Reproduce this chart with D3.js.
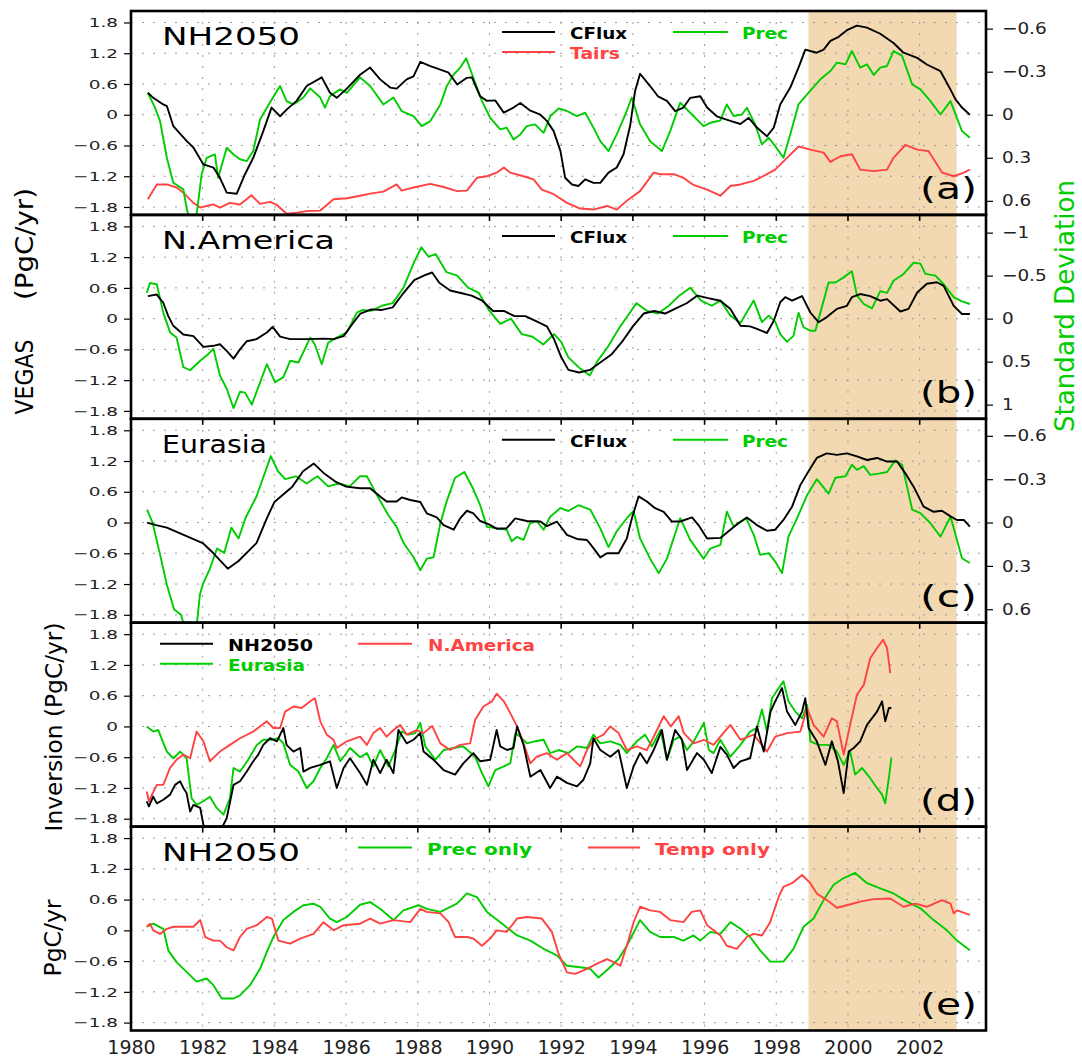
<!DOCTYPE html>
<html>
<head>
<meta charset="utf-8">
<script src="https://cdn.jsdelivr.net/npm/d3@7"></script>
<style>
  body { margin: 0; background: #fff; }
  svg { display: block; }
  text { font-family: "DejaVu Sans", sans-serif; }
</style>
</head>
<body>
<div id="chart"></div>
<script>

// ---- data: [year, value] ----
// (a) NH2050, left axis PgC/yr (CFlux, Tairs), right axis std dev (Prec)
var nhCFlux = [[1980.47,0.43],[1980.62,0.33],[1980.9,0.2],[1981.0,0.17],[1981.18,-0.22],[1981.55,-0.51],[1981.74,-0.64],[1982.02,-0.97],[1982.3,-1.03],[1982.48,-1.23],[1982.67,-1.52],[1982.95,-1.54],[1983.18,-1.16],[1983.41,-0.84],[1983.69,-0.32],[1983.92,0.14],[1984.16,-0.03],[1984.34,0.1],[1984.62,0.27],[1984.9,0.56],[1985.32,0.73],[1985.55,0.43],[1985.74,0.33],[1986.02,0.51],[1986.39,0.78],[1986.67,0.92],[1986.95,0.69],[1987.23,0.53],[1987.41,0.51],[1987.69,0.69],[1987.88,0.75],[1988.07,1.03],[1988.35,0.95],[1988.63,0.88],[1988.86,0.82],[1989.1,0.59],[1989.37,0.72],[1989.51,0.73],[1989.74,0.36],[1989.93,0.27],[1990.16,0.28],[1990.4,0.04],[1990.67,0.14],[1990.86,0.23],[1991.14,0.08],[1991.42,0.0],[1991.6,-0.12],[1991.79,-0.32],[1991.98,-0.71],[1992.11,-1.23],[1992.3,-1.36],[1992.48,-1.39],[1992.67,-1.26],[1992.9,-1.33],[1993.09,-1.33],[1993.32,-1.13],[1993.55,-1.03],[1993.74,-0.77],[1993.93,-0.19],[1994.06,0.46],[1994.2,0.8],[1994.48,0.56],[1994.7,0.36],[1994.95,0.27],[1995.18,0.07],[1995.41,0.14],[1995.6,0.33],[1995.88,0.36],[1996.07,0.14],[1996.34,-0.03],[1996.72,-0.12],[1997.0,-0.18],[1997.23,-0.06],[1997.46,-0.25],[1997.74,-0.42],[1997.93,-0.25],[1998.11,0.2],[1998.39,0.53],[1998.62,0.92],[1998.81,1.27],[1999.13,1.21],[1999.32,1.27],[1999.51,1.44],[1999.74,1.52],[1999.97,1.65],[2000.25,1.74],[2000.53,1.7],[2000.9,1.58],[2001.27,1.4],[2001.55,1.21],[2001.93,1.11],[2002.2,0.98],[2002.58,0.85],[2002.86,0.49],[2003.0,0.3],[2003.18,0.14],[2003.4,0.0]];
var nhPrec = [[1980.47,-0.153],[1980.67,-0.049],[1980.81,0.044],[1981.0,0.3],[1981.18,0.474],[1981.46,0.52],[1981.55,0.65],[1981.65,0.75],[1981.75,0.74],[1981.83,0.695],[1981.97,0.416],[1982.11,0.3],[1982.34,0.277],[1982.43,0.44],[1982.67,0.23],[1982.86,0.277],[1983.04,0.31],[1983.23,0.323],[1983.41,0.253],[1983.6,0.033],[1983.79,-0.049],[1984.07,-0.165],[1984.16,-0.2],[1984.34,-0.095],[1984.53,-0.072],[1984.81,-0.12],[1985.0,-0.184],[1985.28,-0.12],[1985.41,-0.049],[1985.55,-0.13],[1985.83,-0.177],[1986.02,-0.153],[1986.39,-0.26],[1986.67,-0.2],[1987.04,-0.072],[1987.32,-0.12],[1987.55,-0.026],[1987.88,0.009],[1988.11,0.079],[1988.35,0.044],[1988.63,-0.072],[1988.81,-0.2],[1989.0,-0.28],[1989.18,-0.328],[1989.35,-0.393],[1989.55,-0.258],[1989.79,-0.095],[1990.02,0.021],[1990.3,0.102],[1990.48,0.09],[1990.67,0.172],[1990.86,0.137],[1991.04,0.079],[1991.27,0.067],[1991.51,0.126],[1991.7,0.009],[1991.93,-0.044],[1992.16,-0.026],[1992.44,0.009],[1992.67,-0.014],[1992.9,0.09],[1993.09,0.184],[1993.32,0.253],[1993.55,0.137],[1993.79,-0.002],[1993.97,-0.12],[1994.2,0.067],[1994.48,0.184],[1994.81,0.253],[1995.04,0.114],[1995.32,-0.084],[1995.55,-0.026],[1995.97,0.079],[1996.16,0.056],[1996.44,0.04],[1996.62,-0.072],[1996.81,0.009],[1997.04,-0.002],[1997.18,-0.049],[1997.41,0.067],[1997.6,0.207],[1997.79,0.16],[1997.97,0.219],[1998.2,0.3],[1998.39,0.137],[1998.62,-0.072],[1998.86,-0.142],[1999.23,-0.247],[1999.51,-0.305],[1999.69,-0.363],[1999.93,-0.351],[2000.11,-0.444],[2000.34,-0.328],[2000.53,-0.351],[2000.72,-0.277],[2000.9,-0.328],[2001.09,-0.34],[2001.27,-0.444],[2001.51,-0.41],[2001.79,-0.212],[2002.02,-0.177],[2002.3,-0.095],[2002.58,-0.002],[2002.86,-0.095],[2003.0,-0.002],[2003.18,0.114],[2003.4,0.16]];
var nhTairs = [[1980.47,-1.65],[1980.72,-1.36],[1981.0,-1.36],[1981.27,-1.42],[1981.46,-1.52],[1981.74,-1.72],[1981.93,-1.81],[1982.3,-1.75],[1982.48,-1.81],[1982.76,-1.72],[1983.04,-1.75],[1983.36,-1.57],[1983.6,-1.74],[1983.88,-1.7],[1984.07,-1.76],[1984.34,-1.93],[1984.62,-1.91],[1984.9,-1.88],[1985.28,-1.87],[1985.65,-1.65],[1986.02,-1.63],[1986.39,-1.58],[1986.67,-1.54],[1987.04,-1.5],[1987.41,-1.36],[1987.55,-1.48],[1987.88,-1.42],[1988.35,-1.35],[1988.72,-1.41],[1989.1,-1.49],[1989.37,-1.48],[1989.65,-1.23],[1989.93,-1.2],[1990.2,-1.13],[1990.4,-1.03],[1990.58,-1.13],[1990.95,-1.2],[1991.23,-1.26],[1991.46,-1.46],[1991.79,-1.55],[1992.16,-1.72],[1992.53,-1.83],[1992.9,-1.85],[1993.28,-1.78],[1993.55,-1.85],[1993.83,-1.68],[1994.2,-1.49],[1994.58,-1.13],[1994.76,-1.16],[1995.14,-1.16],[1995.41,-1.23],[1995.69,-1.37],[1996.07,-1.46],[1996.44,-1.58],[1996.72,-1.39],[1997.0,-1.36],[1997.37,-1.29],[1997.74,-1.16],[1997.97,-1.07],[1998.3,-0.84],[1998.62,-0.62],[1998.95,-0.68],[1999.32,-0.74],[1999.51,-0.92],[1999.79,-0.81],[2000.11,-0.77],[2000.34,-1.07],[2000.72,-1.1],[2001.09,-1.07],[2001.27,-0.84],[2001.6,-0.59],[2001.93,-0.68],[2002.25,-0.71],[2002.63,-1.13],[2002.95,-1.2],[2003.23,-1.13],[2003.4,-1.07]];

// (b) N.America
var naCFlux = [[1980.47,0.44],[1980.72,0.47],[1980.9,0.31],[1981.04,0.05],[1981.18,-0.14],[1981.46,-0.31],[1981.74,-0.34],[1982.02,-0.55],[1982.3,-0.53],[1982.48,-0.5],[1982.67,-0.63],[1982.86,-0.78],[1983.04,-0.6],[1983.23,-0.44],[1983.5,-0.4],[1983.79,-0.27],[1983.95,-0.16],[1984.16,-0.35],[1984.44,-0.4],[1984.9,-0.4],[1985.37,-0.39],[1985.65,-0.4],[1985.93,-0.34],[1986.2,-0.08],[1986.4,0.1],[1986.7,0.18],[1987.0,0.17],[1987.3,0.22],[1987.6,0.5],[1987.9,0.75],[1988.2,0.85],[1988.4,0.9],[1988.6,0.7],[1988.9,0.55],[1989.2,0.5],[1989.5,0.45],[1989.8,0.35],[1990.1,0.15],[1990.4,0.15],[1990.7,0.05],[1991.0,0.05],[1991.3,-0.05],[1991.6,-0.15],[1991.8,-0.4],[1992.0,-0.75],[1992.2,-1.0],[1992.5,-1.05],[1992.8,-1.0],[1993.1,-0.85],[1993.4,-0.7],[1993.7,-0.45],[1994.0,-0.15],[1994.3,0.1],[1994.6,0.15],[1994.9,0.1],[1995.2,0.2],[1995.5,0.3],[1995.8,0.45],[1996.1,0.4],[1996.44,0.35],[1996.72,0.19],[1997.0,-0.14],[1997.27,-0.15],[1997.46,-0.2],[1997.74,-0.28],[1997.93,-0.04],[1998.11,0.32],[1998.25,0.42],[1998.44,0.35],[1998.72,0.44],[1998.95,0.12],[1999.18,-0.07],[1999.41,0.03],[1999.69,0.19],[1999.97,0.25],[2000.11,0.42],[2000.34,0.48],[2000.62,0.44],[2000.9,0.35],[2001.09,0.38],[2001.46,0.14],[2001.69,0.19],[2001.93,0.51],[2002.2,0.68],[2002.48,0.71],[2002.67,0.64],[2002.95,0.25],[2003.18,0.09],[2003.4,0.09]];
var naPrec = [[1980.44,-0.3],[1980.53,-0.415],[1980.72,-0.4],[1980.9,-0.07],[1981.09,0.16],[1981.27,0.22],[1981.46,0.565],[1981.65,0.6],[1981.93,0.49],[1982.16,0.41],[1982.3,0.35],[1982.48,0.66],[1982.67,0.815],[1982.86,1.04],[1983.04,0.85],[1983.18,0.86],[1983.37,1.0],[1983.79,0.53],[1984.02,0.74],[1984.25,0.68],[1984.44,0.49],[1984.67,0.51],[1985.0,0.22],[1985.13,0.3],[1985.32,0.53],[1985.5,0.28],[1985.74,0.22],[1986.02,0.16],[1986.3,-0.07],[1986.45,-0.1],[1986.7,-0.09],[1987.0,-0.15],[1987.3,-0.18],[1987.6,-0.36],[1987.9,-0.66],[1988.1,-0.83],[1988.3,-0.72],[1988.5,-0.75],[1988.8,-0.54],[1989.1,-0.5],[1989.4,-0.36],[1989.7,-0.3],[1990.0,-0.09],[1990.3,0.06],[1990.6,0.0],[1990.9,0.18],[1991.2,0.21],[1991.5,0.3],[1991.8,0.18],[1992.0,0.27],[1992.2,0.45],[1992.5,0.57],[1992.8,0.66],[1993.0,0.5],[1993.3,0.33],[1993.6,0.12],[1993.9,-0.06],[1994.1,-0.18],[1994.4,-0.09],[1994.7,-0.06],[1995.0,-0.15],[1995.3,-0.27],[1995.6,-0.36],[1995.9,-0.21],[1996.2,-0.15],[1996.44,-0.21],[1996.72,-0.035],[1997.0,0.05],[1997.37,-0.21],[1997.6,0.04],[1997.79,-0.035],[1997.97,0.035],[1998.11,0.18],[1998.3,0.27],[1998.48,0.2],[1998.62,-0.07],[1998.76,0.1],[1998.95,0.14],[1999.09,0.14],[1999.23,-0.07],[1999.46,-0.42],[1999.65,-0.42],[1999.88,-0.48],[2000.11,-0.55],[2000.25,-0.27],[2000.44,-0.17],[2000.67,-0.12],[2000.9,-0.32],[2001.09,-0.3],[2001.27,-0.44],[2001.55,-0.52],[2001.83,-0.65],[2002.02,-0.64],[2002.16,-0.52],[2002.44,-0.5],[2002.67,-0.4],[2002.95,-0.25],[2003.18,-0.2],[2003.4,-0.17]];

// (c) Eurasia
var euCFlux = [[1980.45,0.0],[1980.7,-0.05],[1981.0,-0.1],[1981.5,-0.25],[1982.0,-0.4],[1982.3,-0.6],[1982.7,-0.9],[1983.0,-0.75],[1983.5,-0.4],[1983.8,0.1],[1984.0,0.4],[1984.5,0.7],[1984.8,1.0],[1985.1,1.15],[1985.4,0.95],[1985.7,0.8],[1986.0,0.7],[1986.39,0.67],[1986.67,0.67],[1986.95,0.51],[1987.13,0.41],[1987.41,0.41],[1987.55,0.49],[1987.79,0.44],[1988.07,0.4],[1988.25,0.18],[1988.53,0.1],[1988.72,-0.05],[1989.0,-0.14],[1989.18,0.08],[1989.37,0.23],[1989.55,0.18],[1989.74,0.03],[1989.97,-0.03],[1990.2,-0.12],[1990.48,-0.11],[1990.72,0.08],[1991.04,0.03],[1991.42,0.02],[1991.6,-0.07],[1991.88,0.02],[1992.16,-0.24],[1992.44,-0.32],[1992.72,-0.34],[1992.9,-0.5],[1993.09,-0.68],[1993.28,-0.6],[1993.6,-0.6],[1993.83,-0.31],[1993.97,0.08],[1994.16,0.51],[1994.39,0.41],[1994.62,0.28],[1994.86,0.21],[1995.09,0.02],[1995.32,0.02],[1995.65,0.1],[1995.83,-0.05],[1996.07,-0.31],[1996.44,-0.3],[1996.72,-0.14],[1996.95,-0.01],[1997.18,0.1],[1997.46,-0.05],[1997.74,-0.16],[1997.97,-0.14],[1998.2,0.05],[1998.44,0.31],[1998.67,0.73],[1998.9,1.0],[1999.13,1.26],[1999.41,1.35],[1999.69,1.32],[1999.97,1.35],[2000.25,1.29],[2000.53,1.22],[2000.81,1.26],[2001.09,1.19],[2001.37,1.19],[2001.6,0.96],[2001.83,0.7],[2002.11,0.31],[2002.39,0.21],[2002.62,0.23],[2002.86,0.12],[2003.04,0.05],[2003.23,0.05],[2003.4,-0.08]];
var euPrec = [[1980.45,-0.09],[1980.6,0.0],[1980.8,0.21],[1981.0,0.43],[1981.2,0.6],[1981.4,0.64],[1981.55,0.78],[1981.8,0.8],[1981.92,0.5],[1982.0,0.43],[1982.2,0.32],[1982.4,0.18],[1982.6,0.21],[1982.8,0.035],[1983.0,0.11],[1983.2,-0.035],[1983.5,-0.18],[1983.7,-0.32],[1983.9,-0.46],[1984.1,-0.355],[1984.3,-0.3],[1984.6,-0.32],[1984.9,-0.27],[1985.2,-0.32],[1985.5,-0.25],[1985.8,-0.27],[1986.1,-0.25],[1986.39,-0.32],[1986.58,-0.32],[1986.86,-0.19],[1987.18,-0.05],[1987.41,0.03],[1987.6,0.14],[1987.88,0.24],[1988.07,0.33],[1988.25,0.25],[1988.44,0.24],[1988.63,0.005],[1988.81,-0.15],[1989.04,-0.31],[1989.3,-0.35],[1989.55,-0.23],[1989.74,-0.12],[1989.93,0.03],[1990.2,0.04],[1990.48,0.05],[1990.62,0.13],[1990.76,0.1],[1990.95,0.12],[1991.13,0.005],[1991.32,-0.01],[1991.51,0.05],[1991.69,-0.04],[1991.98,-0.1],[1992.2,-0.08],[1992.48,-0.12],[1992.81,-0.09],[1993.09,0.04],[1993.32,0.17],[1993.55,0.06],[1993.83,-0.03],[1994.02,-0.08],[1994.2,0.11],[1994.48,0.25],[1994.72,0.35],[1994.95,0.25],[1995.32,-0.03],[1995.6,0.12],[1995.97,0.25],[1996.16,0.18],[1996.44,0.155],[1996.62,-0.076],[1996.81,0.028],[1997.16,-0.03],[1997.37,0.085],[1997.55,0.224],[1997.79,0.212],[1997.97,0.27],[1998.16,0.35],[1998.34,0.097],[1998.58,-0.03],[1998.86,-0.19],[1999.13,-0.3],[1999.46,-0.2],[1999.65,-0.31],[1999.93,-0.32],[2000.11,-0.4],[2000.25,-0.365],[2000.44,-0.39],[2000.62,-0.33],[2000.9,-0.34],[2001.09,-0.35],[2001.32,-0.43],[2001.51,-0.4],[2001.79,-0.09],[2002.02,-0.065],[2002.3,0.005],[2002.58,0.097],[2002.86,-0.04],[2003.0,0.085],[2003.18,0.247],[2003.4,0.28]];

// (d) Inversion
var invNH = [[1980.44,-1.46],[1980.5,-1.56],[1980.62,-1.37],[1980.72,-1.5],[1980.9,-1.43],[1981.09,-1.33],[1981.23,-1.14],[1981.37,-1.07],[1981.46,-1.2],[1981.55,-1.3],[1981.65,-1.66],[1981.74,-1.53],[1981.93,-1.59],[1982.02,-1.92],[1982.3,-2.3],[1982.48,-2.05],[1982.67,-1.79],[1982.86,-1.14],[1983.04,-1.07],[1983.23,-0.88],[1983.41,-0.68],[1983.55,-0.55],[1983.69,-0.36],[1983.88,-0.23],[1984.07,-0.29],[1984.25,-0.03],[1984.34,-0.36],[1984.53,-0.49],[1984.72,-0.42],[1984.81,-0.88],[1985.0,-0.81],[1985.28,-0.75],[1985.55,-0.68],[1985.74,-1.2],[1985.93,-0.81],[1986.11,-0.62],[1986.39,-0.91],[1986.58,-1.14],[1986.76,-0.65],[1986.95,-0.91],[1987.13,-0.65],[1987.32,-0.91],[1987.46,-0.07],[1987.69,-0.33],[1987.88,-0.26],[1988.07,-0.13],[1988.16,-0.49],[1988.44,-0.65],[1988.72,-0.85],[1989.04,-0.94],[1989.27,-0.72],[1989.55,-0.52],[1989.74,-0.68],[1990.02,-0.65],[1990.2,-0.07],[1990.3,-0.39],[1990.49,-0.46],[1990.67,-0.42],[1990.77,0.0],[1990.95,-0.36],[1991.14,-0.98],[1991.42,-0.85],[1991.69,-1.2],[1991.88,-0.98],[1992.16,-1.1],[1992.44,-1.17],[1992.62,-1.04],[1992.81,-0.72],[1992.9,-0.23],[1993.09,-0.46],[1993.37,-0.59],[1993.6,-0.46],[1993.83,-1.2],[1994.02,-0.78],[1994.2,-0.52],[1994.39,-0.72],[1994.58,-0.46],[1994.81,-0.07],[1994.95,-0.65],[1995.18,-0.07],[1995.37,-0.26],[1995.51,-0.85],[1995.79,-0.52],[1995.98,-0.65],[1996.2,-0.91],[1996.44,-0.4],[1996.62,-0.55],[1996.81,-0.81],[1997.0,-0.68],[1997.27,-0.62],[1997.46,0.0],[1997.65,-0.49],[1997.84,0.29],[1997.97,0.49],[1998.16,0.75],[1998.3,0.29],[1998.53,0.03],[1998.72,0.29],[1998.81,0.55],[1998.9,-0.03],[1999.13,-0.29],[1999.37,-0.75],[1999.55,-0.29],[1999.72,-0.68],[1999.88,-1.3],[2000.02,-0.49],[2000.16,-0.42],[2000.34,-0.29],[2000.53,0.03],[2000.67,0.16],[2000.81,0.29],[2000.95,0.49],[2001.04,0.1],[2001.14,0.36],[2001.21,0.36]];
var invNA = [[1980.44,-1.27],[1980.5,-1.46],[1980.72,-1.14],[1980.9,-1.14],[1981.09,-0.81],[1981.27,-0.65],[1981.46,-0.55],[1981.65,-0.62],[1981.83,-0.1],[1982.02,-0.29],[1982.2,-0.68],[1982.48,-0.49],[1982.76,-0.36],[1983.04,-0.23],[1983.41,-0.1],[1983.79,0.1],[1983.97,-0.03],[1984.16,-0.03],[1984.3,0.29],[1984.53,0.39],[1984.76,0.36],[1985.0,0.49],[1985.13,0.55],[1985.28,0.1],[1985.46,-0.16],[1985.65,-0.26],[1985.74,-0.42],[1986.02,-0.29],[1986.39,-0.2],[1986.58,-0.36],[1986.76,-0.13],[1986.95,-0.03],[1987.13,-0.2],[1987.32,-0.07],[1987.51,0.03],[1987.69,-0.16],[1987.97,-0.07],[1988.16,-0.13],[1988.4,0.01],[1988.63,-0.33],[1988.9,-0.46],[1989.18,-0.36],[1989.46,-0.33],[1989.6,0.13],[1989.83,0.39],[1990.07,0.49],[1990.2,0.64],[1990.4,0.49],[1990.58,0.26],[1990.77,0.0],[1990.95,-0.33],[1991.14,-0.72],[1991.32,-0.59],[1991.6,-0.52],[1991.88,-0.65],[1992.16,-0.52],[1992.53,-0.78],[1992.72,-0.46],[1992.9,-0.26],[1993.18,-0.16],[1993.37,0.0],[1993.6,-0.13],[1993.83,-0.46],[1994.11,-0.39],[1994.39,-0.46],[1994.58,-0.2],[1994.86,0.2],[1995.06,0.0],[1995.28,0.2],[1995.42,-0.13],[1995.7,-0.33],[1995.98,-0.26],[1996.25,-0.36],[1996.44,-0.2],[1996.72,0.03],[1997.0,-0.26],[1997.37,-0.16],[1997.74,-0.49],[1997.97,-0.2],[1998.3,-0.13],[1998.67,-0.1],[1998.86,0.36],[1999.04,0.03],[1999.32,-0.2],[1999.55,0.16],[1999.69,0.1],[1999.88,-0.55],[2000.06,0.03],[2000.25,0.62],[2000.44,0.81],[2000.62,1.33],[2000.81,1.53],[2000.98,1.69],[2001.09,1.53],[2001.18,1.04]];
var invEU = [[1980.44,0.0],[1980.62,-0.1],[1980.76,-0.07],[1981.0,-0.49],[1981.18,-0.62],[1981.37,-0.49],[1981.55,-0.62],[1981.69,-1.4],[1981.83,-1.53],[1982.02,-1.46],[1982.2,-1.37],[1982.39,-1.59],[1982.58,-1.72],[1982.76,-1.4],[1982.86,-0.81],[1983.04,-0.88],[1983.27,-0.65],[1983.51,-0.36],[1983.69,-0.26],[1983.93,-0.26],[1984.11,-0.23],[1984.25,-0.33],[1984.44,-0.75],[1984.67,-0.88],[1984.9,-1.2],[1985.09,-1.07],[1985.28,-0.81],[1985.46,-0.62],[1985.65,-0.36],[1985.84,-0.68],[1986.11,-0.42],[1986.39,-0.6],[1986.58,-0.52],[1986.76,-0.78],[1986.95,-0.46],[1987.18,-0.78],[1987.37,-0.46],[1987.55,-0.1],[1987.74,-0.16],[1987.93,-0.13],[1988.07,0.07],[1988.21,-0.39],[1988.49,-0.65],[1988.72,-0.46],[1989.0,-0.42],[1989.27,-0.39],[1989.6,-0.59],[1989.79,-0.91],[1989.97,-1.17],[1990.16,-0.85],[1990.4,-0.78],[1990.58,-0.72],[1990.72,-0.13],[1990.86,-0.2],[1991.04,-0.33],[1991.27,-0.29],[1991.51,-0.26],[1991.69,-0.52],[1991.93,-0.46],[1992.2,-0.52],[1992.44,-0.39],[1992.72,-0.42],[1992.9,-0.16],[1993.09,-0.33],[1993.37,-0.29],[1993.65,-0.36],[1993.83,-0.52],[1994.11,-0.29],[1994.34,-0.16],[1994.53,-0.39],[1994.77,-0.07],[1994.95,-0.65],[1995.14,-0.26],[1995.32,-0.2],[1995.51,-0.46],[1995.7,-0.29],[1995.98,0.07],[1996.12,-0.46],[1996.25,-0.52],[1996.44,-0.26],[1996.72,-0.59],[1997.0,-0.36],[1997.27,-0.1],[1997.46,-0.03],[1997.6,0.33],[1997.74,-0.1],[1997.88,0.55],[1998.07,0.75],[1998.2,0.88],[1998.34,0.49],[1998.53,0.29],[1998.72,0.16],[1998.86,0.42],[1998.95,-0.29],[1999.18,-0.36],[1999.46,-0.36],[1999.69,-0.49],[1999.88,-0.75],[2000.06,-0.49],[2000.2,-0.94],[2000.39,-0.81],[2000.62,-1.01],[2000.81,-1.2],[2000.95,-1.33],[2001.04,-1.5],[2001.14,-1.01],[2001.21,-0.62]];

// (e) NH2050 attribution
var precOnly = [[1980.44,0.07],[1980.62,0.13],[1980.9,0.03],[1981.04,-0.39],[1981.27,-0.62],[1981.55,-0.81],[1981.83,-1.0],[1982.11,-0.94],[1982.3,-1.07],[1982.53,-1.33],[1982.86,-1.33],[1983.04,-1.27],[1983.32,-1.07],[1983.6,-0.75],[1983.79,-0.42],[1983.97,-0.13],[1984.25,0.2],[1984.53,0.36],[1984.81,0.49],[1985.09,0.52],[1985.28,0.46],[1985.55,0.23],[1985.74,0.16],[1986.02,0.26],[1986.39,0.5],[1986.67,0.55],[1986.95,0.42],[1987.32,0.2],[1987.6,0.39],[1988.02,0.49],[1988.25,0.42],[1988.63,0.36],[1989.09,0.52],[1989.37,0.72],[1989.65,0.65],[1989.93,0.36],[1990.3,0.16],[1990.77,-0.1],[1991.14,-0.2],[1991.51,-0.36],[1991.88,-0.49],[1992.16,-0.69],[1992.53,-0.72],[1992.81,-0.75],[1993.04,-0.92],[1993.32,-0.75],[1993.6,-0.56],[1993.83,-0.3],[1994.2,0.2],[1994.48,-0.03],[1994.76,-0.13],[1995.14,-0.13],[1995.41,-0.2],[1995.69,-0.1],[1995.88,-0.2],[1996.16,-0.03],[1996.44,-0.07],[1996.72,0.16],[1997.0,0.03],[1997.27,-0.13],[1997.55,-0.39],[1997.83,-0.61],[1998.2,-0.61],[1998.48,-0.36],[1998.76,0.07],[1999.04,0.23],[1999.32,0.59],[1999.6,0.89],[1999.88,1.02],[2000.2,1.12],[2000.53,0.92],[2000.9,0.82],[2001.27,0.72],[2001.65,0.56],[2002.02,0.43],[2002.39,0.2],[2002.76,0.0],[2003.04,-0.2],[2003.4,-0.39]];
var tempOnly = [[1980.44,0.07],[1980.53,0.13],[1980.62,0.0],[1980.81,-0.07],[1981.0,0.03],[1981.18,0.07],[1981.74,0.07],[1981.93,0.2],[1982.07,-0.13],[1982.3,-0.2],[1982.48,-0.2],[1982.67,-0.33],[1982.86,-0.39],[1983.04,-0.13],[1983.23,0.03],[1983.51,0.1],[1983.79,0.26],[1983.93,0.23],[1984.11,-0.2],[1984.44,-0.26],[1984.72,-0.16],[1985.09,-0.07],[1985.37,0.16],[1985.65,0.0],[1985.93,0.1],[1986.39,0.13],[1986.67,0.23],[1986.95,0.13],[1987.32,0.2],[1987.79,0.16],[1988.07,0.42],[1988.25,0.36],[1988.63,0.33],[1988.86,0.16],[1989.04,-0.13],[1989.37,-0.13],[1989.55,-0.16],[1989.79,-0.3],[1990.02,-0.16],[1990.2,0.0],[1990.48,-0.03],[1990.77,0.23],[1991.04,0.26],[1991.46,0.23],[1991.74,-0.03],[1991.93,-0.46],[1992.16,-0.82],[1992.39,-0.85],[1992.72,-0.75],[1993.0,-0.65],[1993.28,-0.56],[1993.46,-0.62],[1993.65,-0.69],[1993.83,-0.3],[1994.02,0.16],[1994.2,0.46],[1994.48,0.39],[1994.76,0.36],[1995.04,0.2],[1995.41,0.16],[1995.64,0.36],[1995.88,0.39],[1996.07,0.1],[1996.44,-0.1],[1996.62,-0.3],[1996.9,-0.36],[1997.18,-0.13],[1997.37,-0.07],[1997.6,-0.1],[1997.83,0.16],[1998.07,0.66],[1998.2,0.85],[1998.44,0.92],[1998.72,1.08],[1998.95,0.92],[1999.13,0.72],[1999.41,0.59],[1999.69,0.44],[1999.97,0.49],[2000.34,0.56],[2000.72,0.61],[2001.18,0.62],[2001.55,0.46],[2001.88,0.52],[2002.2,0.46],[2002.62,0.59],[2002.86,0.52],[2002.95,0.33],[2003.04,0.39],[2003.4,0.3]];

// axes / labels
var yearTicks = [1980,1982,1984,1986,1988,1990,1992,1994,1996,1998,2000,2002];
var leftTicks = [-1.8,-1.2,-0.6,0,0.6,1.2,1.8];
var sdTicks = [-0.6,-0.3,0,0.3,0.6];
var sdTicksNA = [-1,-0.5,0,0.5,1];
var shadeYears = [1998.9, 2003.03];

var BLACK = "#000", GREEN = "#00cc00", RED = "#ff4242";

var width = 1082, height = 1059;
var left = 131, right = 986, top0 = 11, ph = 203.9;

var svg = d3.select("#chart").append("svg")
	.attr("width", width)
	.attr("height", height);

svg.append("rect").attr("width", width).attr("height", height).attr("fill", "#fff");

var x = d3.scaleLinear().domain([1980, 2003.85]).range([left, right]);

// El Nino / shaded period over all five panels
svg.append("rect")
	.attr("x", x(shadeYears[0]))
	.attr("width", x(shadeYears[1]) - x(shadeYears[0]))
	.attr("y", top0)
	.attr("height", ph * 5)
	.attr("fill", "#f3d9b1");

var panels = [
	{ title: "NH2050", tag: "(a)", sd: { ticks: sdTicks, px: 143.5 },
	  series: [ { data: nhTairs, color: RED }, { data: nhPrec, color: GREEN, right: true }, { data: nhCFlux, color: BLACK } ],
	  legend: [ { t: "CFlux", c: BLACK, x1: 502, x2: 555, tx: 570, row: 0, len: 57 },
	            { t: "Prec", c: GREEN, x1: 673, x2: 728, tx: 742, row: 0, len: 46 },
	            { t: "Tairs", c: RED, x1: 502, x2: 555, tx: 570, row: 1, len: 50 } ] },
	{ title: "N.America", tag: "(b)", sd: { ticks: sdTicksNA, px: 86 },
	  series: [ { data: naPrec, color: GREEN, right: true }, { data: naCFlux, color: BLACK } ],
	  legend: [ { t: "CFlux", c: BLACK, x1: 502, x2: 555, tx: 570, row: 0, len: 57 },
	            { t: "Prec", c: GREEN, x1: 673, x2: 728, tx: 742, row: 0, len: 46 } ] },
	{ title: "Eurasia", tag: "(c)", sd: { ticks: sdTicks, px: 144.5 },
	  series: [ { data: euPrec, color: GREEN, right: true }, { data: euCFlux, color: BLACK } ],
	  legend: [ { t: "CFlux", c: BLACK, x1: 502, x2: 555, tx: 570, row: 0, len: 57 },
	            { t: "Prec", c: GREEN, x1: 673, x2: 728, tx: 742, row: 0, len: 46 } ] },
	{ title: null, tag: "(d)", sd: null,
	  series: [ { data: invEU, color: GREEN }, { data: invNA, color: RED }, { data: invNH, color: BLACK } ],
	  legend: [ { t: "NH2050", c: BLACK, x1: 160, x2: 213, tx: 228, row: 0, len: 85 },
	            { t: "N.America", c: RED, x1: 358, x2: 412, tx: 428, row: 0, len: 107 },
	            { t: "Eurasia", c: GREEN, x1: 160, x2: 213, tx: 228, row: 1, len: 77 } ] },
	{ title: "NH2050", tag: "(e)", sd: null,
	  series: [ { data: precOnly, color: GREEN }, { data: tempOnly, color: RED } ],
	  legend: [ { t: "Prec only", c: GREEN, x1: 358, x2: 412, tx: 427, row: 0, len: 105 },
	            { t: "Temp only", c: RED, x1: 588, x2: 640, tx: 655, row: 0, len: 115 } ] }
];

var titleLen = { "NH2050": 138, "N.America": 173, "Eurasia": 105 };

var fmtLeft = function(v) { return v === 0 ? "0" : d3.format(".1f")(v); };

panels.forEach(function(p, i) {
	var t = top0 + i * ph;
	var y = d3.scaleLinear().domain([-1.954, 2.024]).range([t + ph, t]);
	var g = svg.append("g");

	// dotted grid
	g.selectAll(".hgrid").data(leftTicks).enter().append("line")
		.attr("x1", left).attr("x2", right)
		.attr("y1", function(d) { return y(d); }).attr("y2", function(d) { return y(d); })
		.attr("stroke", "#9a9a9a").attr("stroke-width", 1).attr("stroke-dasharray", "2,9");
	g.selectAll(".vgrid").data(yearTicks.slice(1)).enter().append("line")
		.attr("x1", function(d) { return x(d); }).attr("x2", function(d) { return x(d); })
		.attr("y1", t).attr("y2", t + ph)
		.attr("stroke", "#9a9a9a").attr("stroke-width", 1).attr("stroke-dasharray", "2,9");

	var clipId = "clip" + i;
	svg.append("clipPath").attr("id", clipId).append("rect")
		.attr("x", left).attr("y", t).attr("width", right - left).attr("height", ph);

	var yR = null;
	if (p.sd) {
		var z = y(0);
		yR = d3.scaleLinear()
			.domain([(t - z) / p.sd.px, (t + ph - z) / p.sd.px])
			.range([t, t + ph]);
	}

	p.series.forEach(function(s) {
		var sc = s.right ? yR : y;
		g.append("path")
			.datum(s.data)
			.attr("clip-path", "url(#" + clipId + ")")
			.attr("fill", "none")
			.attr("stroke", s.color)
			.attr("stroke-width", 1.9)
			.attr("stroke-linejoin", "round")
			.attr("d", d3.line().x(function(d) { return x(d[0]); }).y(function(d) { return sc(d[1]); }));
	});

	// frame
	g.append("rect")
		.attr("x", left).attr("y", t).attr("width", right - left).attr("height", ph)
		.attr("fill", "none").attr("stroke", "#000").attr("stroke-width", 2.6);

	// inward year ticks at panel top
	if (i > 0) {
		g.selectAll(".tt").data(yearTicks.slice(1)).enter().append("line")
			.attr("x1", function(d) { return x(d); }).attr("x2", function(d) { return x(d); })
			.attr("y1", t).attr("y2", t + 6)
			.attr("stroke", "#000").attr("stroke-width", 1.6);
	}

	// left axis
	var ax = g.append("g").attr("transform", "translate(" + left + ",0)")
		.call(d3.axisLeft(y).tickValues(leftTicks).tickSize(7).tickFormat(fmtLeft));
	ax.select(".domain").remove();
	ax.selectAll(".tick line").attr("stroke", "#000").attr("stroke-width", 1.2);
	ax.selectAll("text")
		.attr("font-size", 13)
		.attr("fill", "#222")
		.attr("x", -13 / 1.42)
		.attr("transform", "scale(1.42,1)")
		.style("font-family", "'DejaVu Sans', sans-serif");

	// right axis (standard deviation)
	if (p.sd) {
		var axR = g.append("g").attr("transform", "translate(" + right + ",0)")
			.call(d3.axisRight(yR).tickValues(p.sd.ticks).tickSize(7).tickFormat(d3.format("~g")));
		axR.select(".domain").remove();
		axR.selectAll(".tick line").attr("stroke", "#000").attr("stroke-width", 1.2);
		axR.selectAll("text")
			.attr("font-size", 16)
			.attr("fill", "#222")
			.attr("x", 16 / 1.15)
			.attr("transform", "scale(1.15,1)")
			.style("font-family", "'DejaVu Sans', sans-serif");
	}

	// panel title
	if (p.title) {
		g.append("text")
			.attr("x", 162).attr("y", t + 34)
			.attr("font-size", 25)
			.attr("textLength", titleLen[p.title])
			.attr("lengthAdjust", "spacingAndGlyphs")
			.attr("fill", "#000")
			.text(p.title);
	}

	// legend
	p.legend.forEach(function(l) {
		var ly = t + 21 + l.row * 20;
		g.append("line")
			.attr("x1", l.x1).attr("x2", l.x2).attr("y1", ly).attr("y2", ly)
			.attr("stroke", l.c).attr("stroke-width", 2);
		g.append("text")
			.attr("x", l.tx).attr("y", ly + 7)
			.attr("font-size", 16)
			.attr("font-weight", "bold")
			.attr("textLength", l.len)
			.attr("lengthAdjust", "spacingAndGlyphs")
			.attr("fill", l.c)
			.text(l.t);
	});

	// panel tag
	g.append("text")
		.attr("x", 920).attr("y", t + 188)
		.attr("font-size", 31)
		.attr("textLength", 57)
		.attr("lengthAdjust", "spacingAndGlyphs")
		.attr("fill", "#000")
		.text(p.tag);
});

// bottom year axis
var xAxis = svg.append("g")
	.attr("transform", "translate(0," + (top0 + ph * 5) + ")")
	.call(d3.axisBottom(x).tickValues(yearTicks).tickSize(0).tickPadding(10).tickFormat(d3.format("d")));
xAxis.select(".domain").remove();
xAxis.selectAll("text")
	.attr("font-size", 19)
	.attr("fill", "#222")
	.style("font-family", "'DejaVu Sans', sans-serif");

// axis titles
function vlabel(str, bx, cy, size, len, color) {
	svg.append("text")
		.attr("transform", "translate(" + bx + "," + cy + ") rotate(-90)")
		.attr("text-anchor", "middle")
		.attr("font-size", size)
		.attr("textLength", len)
		.attr("lengthAdjust", "spacingAndGlyphs")
		.attr("fill", color)
		.text(str);
}

vlabel("VEGAS", 33, 377, 24, 75, "#000");
vlabel("(PgC/yr)", 33, 244, 24, 112, "#000");
vlabel("Inversion  (PgC/yr)", 62, 727, 23, 209, "#000");
vlabel("PgC/yr", 61, 938, 23, 77, "#000");
vlabel("Standard Deviation", 1074, 306, 26, 252, GREEN);

</script>
</body>
</html>
